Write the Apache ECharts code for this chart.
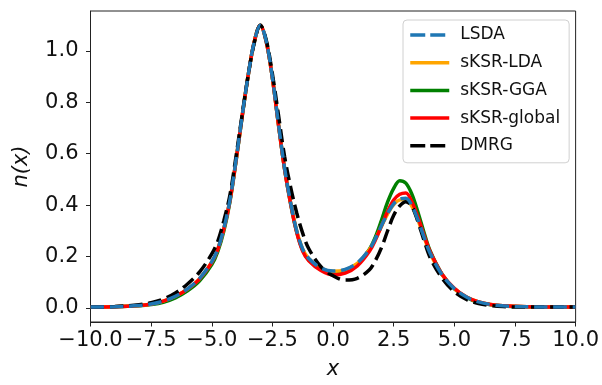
<!DOCTYPE html>
<html>
<head>
<meta charset="utf-8">
<script src="https://cdn.jsdelivr.net/npm/echarts@6/dist/echarts.min.js"></script>
<style>
html,body{margin:0;padding:0;background:#fff;}
#c{width:602px;height:385px;}
</style>
</head>
<body>
<div id="c"></div>
<script>
const xs = [-10,-9,-8,-7.5,-7,-6.5,-6,-5.5,-5,-4.75,-4.5,-4.25,-4,-3.75,-3.5,-3.25,-3,-2.75,-2.5,-2.25,-2,-1.75,-1.5,-1.25,-1,-0.5,0,0.5,1,1.5,1.75,2,2.25,2.5,2.75,3,3.25,3.5,3.75,4,4.5,5,5.5,6,6.5,7,8,9,10];

const lsda = [0.003,0.004,0.009,0.015,0.026,0.045,0.074,0.115,0.18,0.23,0.31,0.42,0.575,0.745,0.905,1.035,1.10,1.035,0.895,0.715,0.545,0.41,0.30,0.228,0.192,0.155,0.143,0.15,0.175,0.228,0.27,0.32,0.368,0.405,0.424,0.426,0.398,0.342,0.275,0.213,0.128,0.075,0.042,0.023,0.013,0.008,0.004,0.003,0.003];

const ksrLda = [0.003,0.004,0.009,0.015,0.026,0.045,0.073,0.114,0.178,0.229,0.309,0.42,0.575,0.745,0.905,1.035,1.10,1.035,0.895,0.715,0.545,0.41,0.30,0.228,0.191,0.154,0.142,0.148,0.173,0.226,0.268,0.318,0.366,0.402,0.42,0.422,0.395,0.341,0.275,0.213,0.128,0.075,0.042,0.023,0.013,0.008,0.004,0.003,0.003];

const ksrGga = [0.003,0.004,0.008,0.013,0.022,0.039,0.066,0.105,0.168,0.22,0.30,0.413,0.57,0.742,0.903,1.034,1.10,1.034,0.893,0.712,0.54,0.405,0.296,0.224,0.186,0.148,0.135,0.142,0.17,0.228,0.277,0.342,0.412,0.465,0.495,0.485,0.442,0.372,0.293,0.222,0.13,0.074,0.04,0.021,0.012,0.007,0.004,0.003,0.003];

const ksrGlobal = [0.003,0.004,0.009,0.015,0.026,0.045,0.073,0.113,0.177,0.228,0.308,0.418,0.573,0.744,0.904,1.035,1.10,1.034,0.893,0.712,0.54,0.405,0.294,0.22,0.183,0.145,0.128,0.135,0.163,0.22,0.265,0.32,0.376,0.42,0.442,0.447,0.413,0.353,0.283,0.219,0.13,0.076,0.042,0.023,0.013,0.008,0.004,0.003,0.003];

const dmrg = [0.003,0.005,0.012,0.02,0.034,0.058,0.093,0.14,0.21,0.26,0.34,0.44,0.59,0.75,0.905,1.03,1.10,1.04,0.91,0.75,0.59,0.47,0.37,0.29,0.23,0.16,0.125,0.108,0.115,0.148,0.185,0.235,0.3,0.36,0.397,0.413,0.395,0.335,0.263,0.196,0.115,0.063,0.033,0.017,0.009,0.005,0.003,0.003,0.003];

const seriesNames = ['LSDA','sKSR-LDA','sKSR-GGA','sKSR-global','DMRG'];
const xTicks = [-10,-7.5,-5,-2.5,0,2.5,5,7.5,10];
const yTicks = [0,0.2,0.4,0.6,0.8,1.0];

const pairs = arr => xs.map((x,i)=>[x,arr[i]]);
const fmt = v => v.toFixed(1).replace('-', '\u2212');

const chart = echarts.init(document.getElementById('c'));
const lw = 3.5;
const dash = [13.5, 5.8];
const colors = {'LSDA':'#1f77b4','sKSR-LDA':'#ffa500','sKSR-GGA':'#008000','sKSR-global':'#ff0000','DMRG':'#000000'};
function mk(name, data, type, z){
  const color = colors[name];
  return {
    name, type:'line', data: pairs(data), showSymbol:false, symbol:'none',
    smooth:0.35, z:z, silent:true,
    lineStyle:{color, width:lw, type:type},
    itemStyle:{color},
    emphasis:{disabled:true}
  };
}
chart.setOption({
  animation:false,
  backgroundColor:'#fff',
  grid:{left:90.5,right:25,top:11,bottom:57.5,show:true,borderColor:'#222',borderWidth:1,backgroundColor:'transparent'},
  xAxis:{
    type:'value', min:-10, max:10,
    name:'x', nameLocation:'middle', nameGap:37,
    nameTextStyle:{fontFamily:'DejaVu Sans',fontStyle:'italic',fontSize:21,color:'#111'},
    axisLine:{show:true,onZero:false,lineStyle:{color:'#222',width:1}},
    axisTick:{show:true,length:4.5,lineStyle:{color:'#222'},customValues:xTicks},
    axisLabel:{fontFamily:'DejaVu Sans',fontSize:21,color:'#111',margin:8,customValues:xTicks,formatter:fmt,showMinLabel:true,showMaxLabel:true},
    splitLine:{show:false}
  },
  yAxis:{
    type:'value', min:-0.055, max:1.155,
    name:'n(x)', nameLocation:'middle', nameGap:58, nameRotate:90,
    nameTextStyle:{fontFamily:'DejaVu Sans',fontStyle:'italic',fontSize:21,color:'#111'},
    axisLine:{show:true,onZero:false,lineStyle:{color:'#222',width:1}},
    axisTick:{show:true,length:4.5,lineStyle:{color:'#222'},customValues:yTicks},
    axisLabel:{fontFamily:'DejaVu Sans',fontSize:21,color:'#111',margin:12,customValues:yTicks,formatter:fmt},
    splitLine:{show:false}
  },
  legend:{
    data:seriesNames.map(n => ({
      name:n,
      lineStyle:{color:colors[n], width:3.5, type:(n==='LSDA'||n==='DMRG') ? [15,5] : 'solid'}
    })),
    orient:'vertical', left:403, top:20,
    itemWidth:39, itemHeight:17, itemGap:10.7,
    padding:[6.5,9,8.5,5.5],
    itemStyle:{opacity:0},
    backgroundColor:'rgba(255,255,255,0.8)',
    borderColor:'#d0d0d0', borderWidth:1, borderRadius:4,
    textStyle:{fontFamily:'DejaVu Sans',fontSize:17,lineHeight:17,color:'#111',padding:[0,0,0,6]},
    selectedMode:false
  },
  series:[
    mk('LSDA', lsda, dash, 7),
    mk('sKSR-LDA', ksrLda, 'solid', 3),
    mk('sKSR-GGA', ksrGga, 'solid', 2),
    mk('sKSR-global', ksrGlobal, 'solid', 4),
    mk('DMRG', dmrg, dash, 5)
  ]
});
</script>
</body>
</html>
